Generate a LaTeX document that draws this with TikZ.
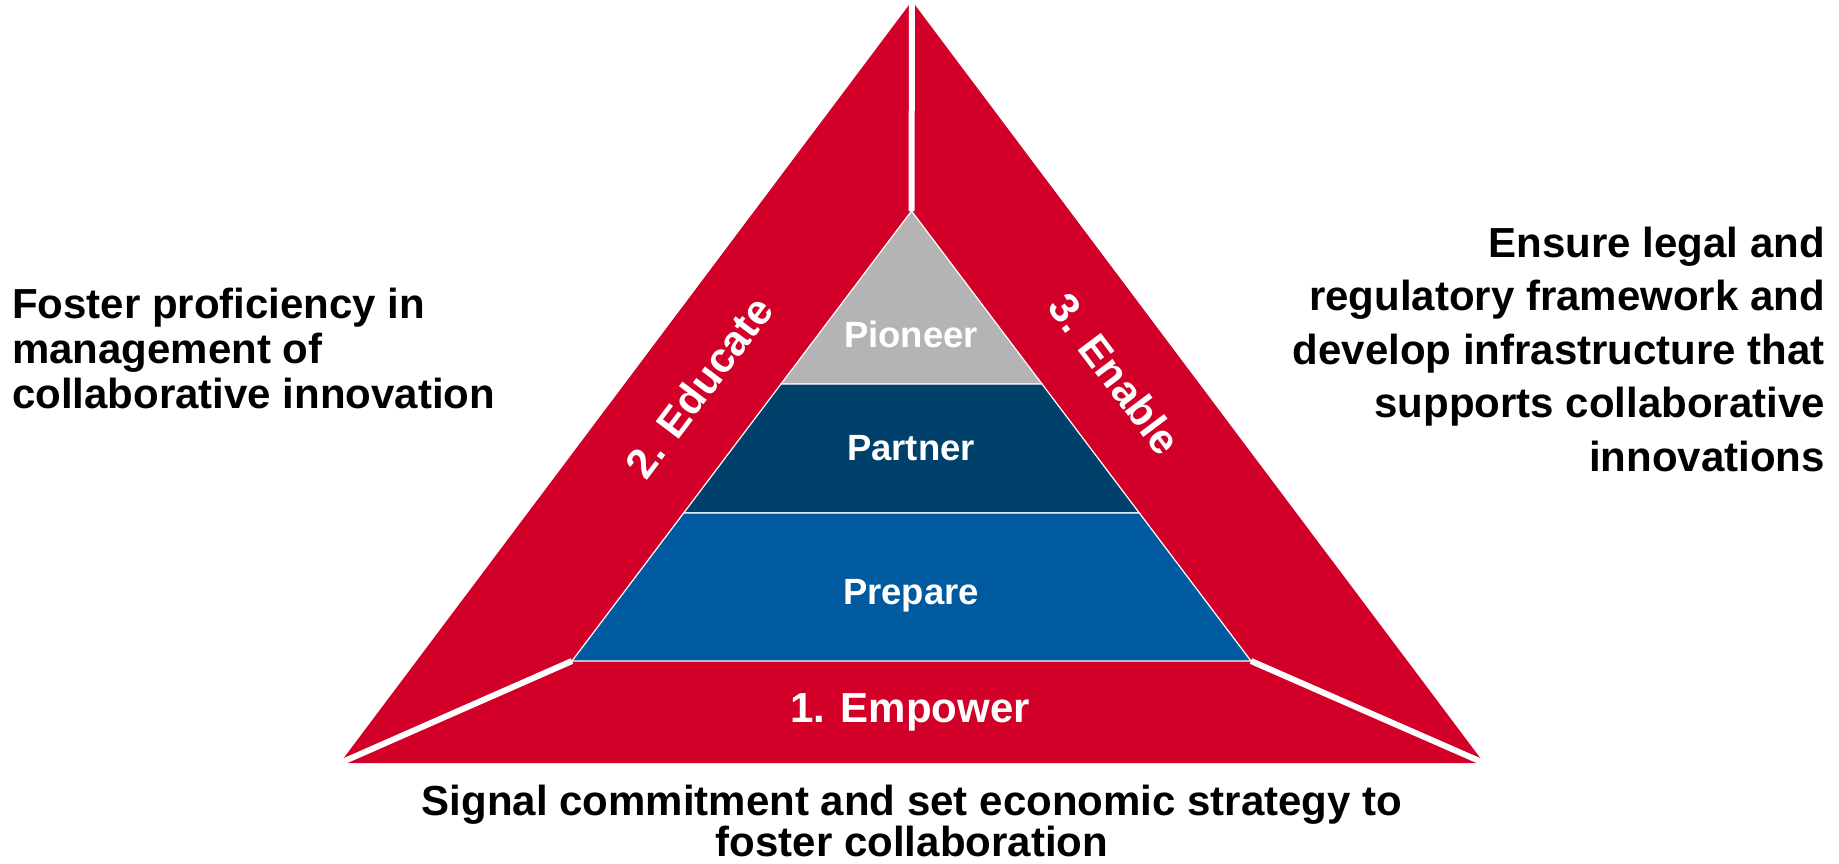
\documentclass[tikz,border=0pt]{standalone}
\usepackage{fontspec}
\setmainfont{Liberation Sans}
\usetikzlibrary{calc}
\definecolor{tred}{RGB}{210,0,40}
\definecolor{tgray}{RGB}{180,180,180}
\definecolor{tdark}{RGB}{0,65,107}
\definecolor{tblue}{RGB}{0,90,160}
\begin{document}
\begin{tikzpicture}[x=1pt,y=-1pt,
  band/.style={draw=white,line width=1.2pt,line join=miter},
  sep/.style={draw=white,line width=6pt},
  inlbl/.style={text=white,font=\fontsize{36.5}{40}\selectfont\bfseries,inner sep=0pt,anchor=base},
  redlbl/.style={text=white,font=\fontsize{42}{46}\selectfont\bfseries,inner sep=0pt},
  sidetxt/.style={text=black,font=\bfseries,inner sep=0pt}]
\useasboundingbox (0,0) rectangle (1839,863);
% outer triangle
\coordinate (OA) at (912,1);
\coordinate (OL) at (340,763);
\coordinate (OR) at (1484,763);
% inner triangle
\coordinate (IA) at (911.5,211);
\coordinate (IL) at (572,661);
\coordinate (IR) at (1251,661);
\coordinate (P1L) at ($(IA)!0.3844!(IL)$);
\coordinate (P1R) at ($(IA)!0.3844!(IR)$);
\coordinate (P2L) at ($(IA)!0.6711!(IL)$);
\coordinate (P2R) at ($(IA)!0.6711!(IR)$);
\fill[tred] (OA) -- (OL) -- (OR) -- cycle;
\path[band,fill=tgray] (IA) -- (P1L) -- (P1R) -- cycle;
\path[band,fill=tdark] (P1L) -- (P2L) -- (P2R) -- (P1R) -- cycle;
\path[band,fill=tblue] (P2L) -- (IL) -- (IR) -- (P2R) -- cycle;
\draw[sep] (OA) -- (IA);
\draw[sep] (IL) -- (OL);
\draw[sep] (IR) -- (OR);
% labels
\node[inlbl] (pio) at (911,347) {Pioneer};
\node[inlbl] (par) at (911,460) {Partner};
\node[inlbl] (pre) at (911,604) {Prepare};
\node[redlbl,anchor=base] (emp) at (910,722) {1. Empower};
\node[redlbl,rotate=53] (edu) at (699,387) {2. Educate};
\node[redlbl,rotate=-53] (ena) at (1115,374) {3. Enable};
% side texts (base anchor = last line baseline)
\node[sidetxt,anchor=base west,align=left,font=\fontsize{42}{45}\selectfont\bfseries] (lt) at (12,408)
  {Foster proficiency in\\management of\\collaborative innovation};
\node[sidetxt,anchor=base east,align=right,font=\fontsize{42}{53.5}\selectfont\bfseries] (rt) at (1825,471)
  {Ensure legal and\\regulatory framework and\\develop infrastructure that\\supports collaborative\\innovations};
\node[sidetxt,anchor=base,align=center,font=\fontsize{42}{41}\selectfont\bfseries] (bt) at (912,856)
  {Signal commitment and set economic strategy to\\foster collaboration};
\end{tikzpicture}
\end{document}
